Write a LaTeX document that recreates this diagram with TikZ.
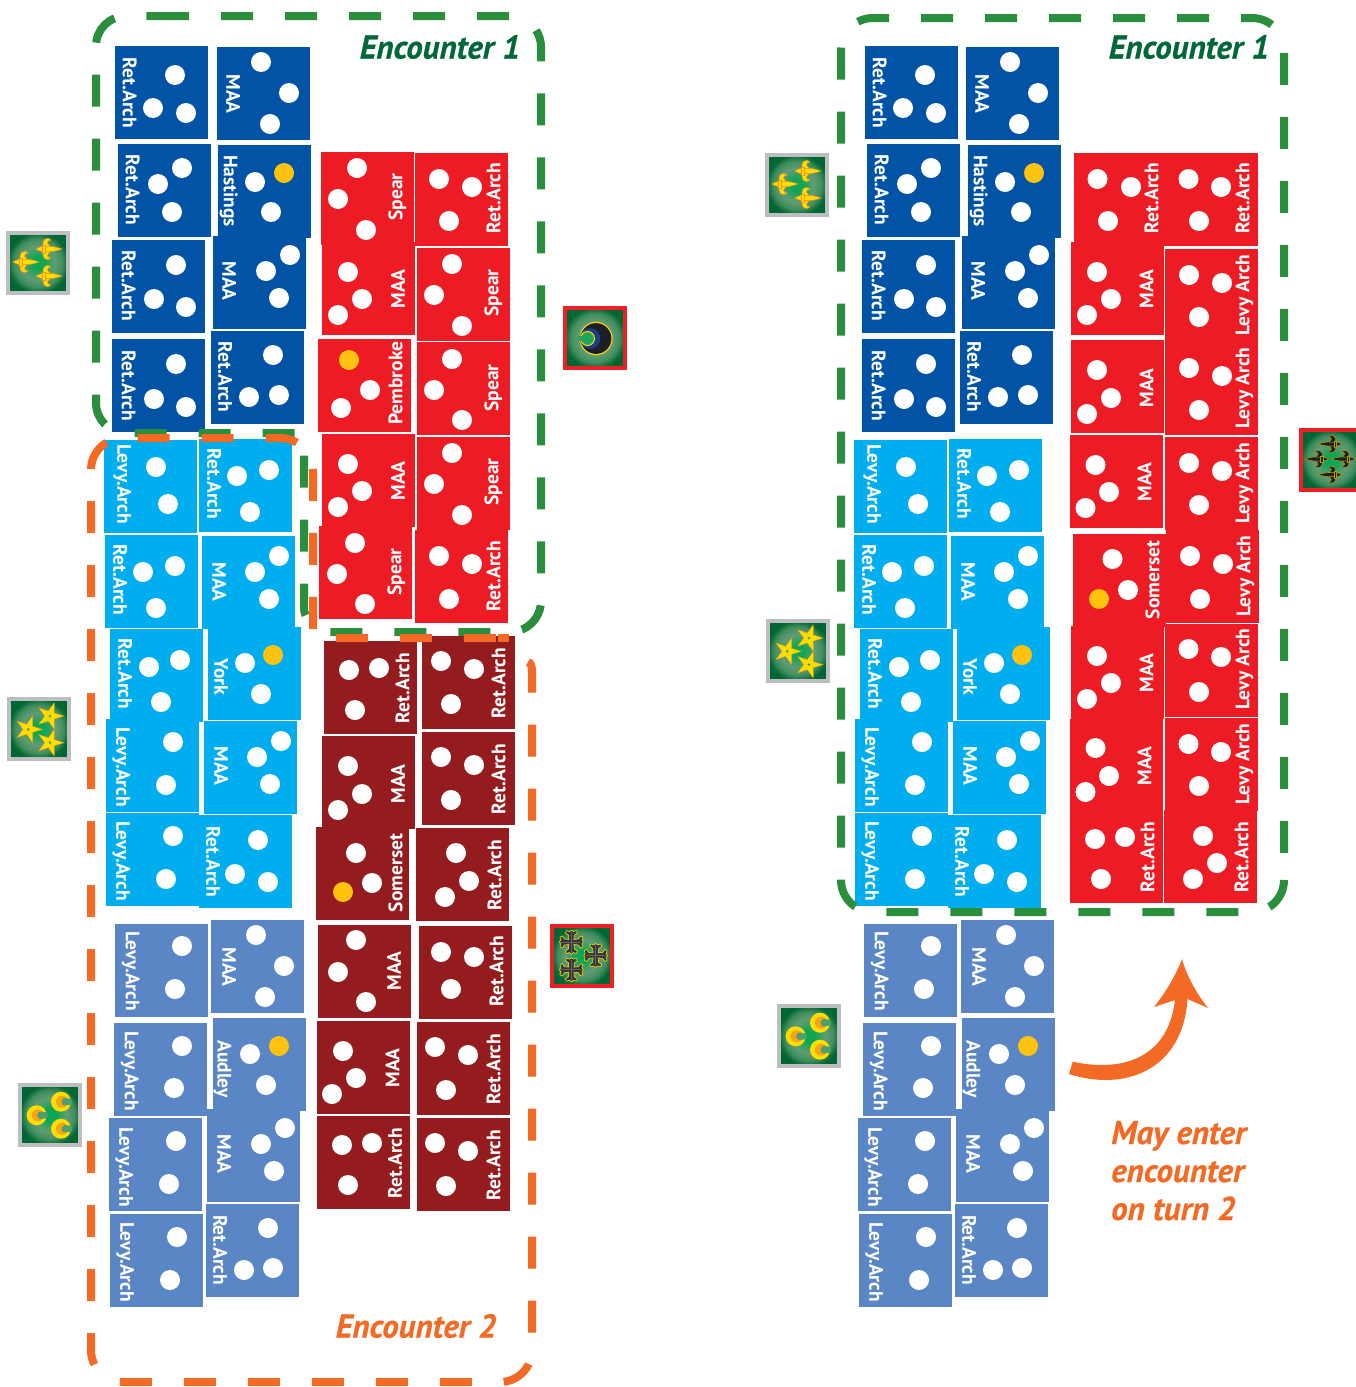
\documentclass[tikz,border=0pt]{standalone}
\usepackage{fontspec}
\setmainfont{PT Sans}
\newfontfamily\encfont[FakeBold=0.5]{PT Sans}
\usetikzlibrary{shapes.geometric,calc}
\definecolor{unitblue}{HTML}{0153A5}
\definecolor{unitsky}{HTML}{00AEEF}
\definecolor{unitslate}{HTML}{5B86C5}
\definecolor{unitred}{HTML}{ED1C24}
\definecolor{unitmaroon}{HTML}{941B1E}
\definecolor{pipgold}{HTML}{FFC20E}
\definecolor{framegreen}{HTML}{2A8F3D}
\definecolor{frameorange}{HTML}{F36A25}
\definecolor{textgreen}{HTML}{006838}
\definecolor{shieldgrey}{HTML}{BCBEC0}
\definecolor{shieldred}{HTML}{ED2027}
\definecolor{emblemgold}{HTML}{FFDD00}
\definecolor{emblemorange}{HTML}{F7941D}
\definecolor{emblemdark}{HTML}{1E1E24}
\definecolor{emblemnavy}{HTML}{1A3F8A}
\definecolor{emblemgreen}{HTML}{1FA45A}
\definecolor{emblembite}{HTML}{4FA06F}
\pgfdeclareradialshading{shieldglow}{\pgfpoint{0bp}{0bp}}{%
  rgb(0bp)=(0.05,0.65,0.33); rgb(5bp)=(0.05,0.65,0.33); rgb(14bp)=(0.38,0.61,0.46);
  rgb(20bp)=(0.26,0.56,0.37); rgb(25.5bp)=(0,0.40,0.20); rgb(60bp)=(0,0.40,0.20)}
\tikzset{
  unitbox/.style={anchor=north west,minimum width=93pt,minimum height=93pt,inner sep=0pt,outer sep=0pt},
  pip/.style={circle,fill=white,minimum size=20pt,inner sep=0pt,outer sep=0pt},
  goldpip/.style={pip,fill=pipgold},
  unitlabel/.style={text=white,font=\bfseries\fontsize{19.5}{20}\selectfont,inner sep=0pt,text height=14.5pt,text depth=0pt},
  frameline/.style={line width=8pt,dash pattern=on 32pt off 32pt,line cap=butt},
  encounterlabel/.style={font=\encfont\bfseries\itshape\fontsize{33}{33}\selectfont,inner sep=0pt},
  shieldbox/.style={minimum size=60pt,inner sep=0pt,outer sep=0pt,line width=4pt,shading=shieldglow},
}
% name, x, y, fill, label, label dx, label dy, label rotation, pips
\newcommand\unit[9]{%
  \node[unitbox,fill=#4] (#1) at (#2,#3) {};
  \node[unitlabel,rotate=#8] (#1label) at ([shift={(#6,#7)}]#1.north west) {#5};
  \foreach \px/\py in {#9} {\node[pip,name=#1pip\px] at ([shift={(\px,\py)}]#1.north west) {};}
}
\newcommand\goldspot[3]{\node[goldpip] (#1gold) at ([shift={(#2,#3)}]#1.north west) {};}
% fleur / dagger: x y xscale yscale fill outline
\newcommand\fleur[6]{%
  \begin{scope}[shift={(#1,#2)},xscale=#3,yscale=#4]
    \filldraw[fill=#5,draw=#6,line width=.5pt,line join=round]
      (-4,-2.6) .. controls (3,-3.2) and (8,-1.6) .. (13,0) .. controls (8,1.6) and (3,3.2) .. (-4,2.6)
      .. controls (-6,3) and (-10,2) .. (-13,0) .. controls (-10,-2) and (-6,-3) .. (-4,-2.6) -- cycle;
    \filldraw[fill=#5,draw=#6,line width=.5pt,line join=round]
      (-5,-2.5) .. controls (-7.5,-6) and (-5,-11) .. (-1,-10.5) .. controls (.5,-10.3) and (1.8,-9.5) .. (1.8,-8.2)
      .. controls (.5,-9) and (-2,-8.5) .. (-1.5,-6) .. controls (-1.2,-4.5) and (0,-3.3) .. (1,-2.5) -- cycle;
    \filldraw[fill=#5,draw=#6,line width=.5pt,line join=round]
      (-5,2.5) .. controls (-7.5,6) and (-5,11) .. (-1,10.5) .. controls (.5,10.3) and (1.8,9.5) .. (1.8,8.2)
      .. controls (.5,9) and (-2,8.5) .. (-1.5,6) .. controls (-1.2,4.5) and (0,3.3) .. (1,2.5) -- cycle;
    \filldraw[fill=#5,draw=#6,line width=.5pt] (-6.5,-4) rectangle (-4,4);
  \end{scope}}
\newcommand\emblemfleurs{%
  \fleur{20}{31}{1}{1}{emblemgold}{emblemorange}
  \fleur{43}{18}{1}{1}{emblemgold}{emblemorange}
  \fleur{43}{45}{1}{1}{emblemgold}{emblemorange}}
\newcommand\emblemdaggers{%
  \fleur{31}{16}{-0.95}{0.8}{emblemdark}{emblemgold!70!black}
  \fleur{17.7}{31}{-0.95}{0.8}{emblemdark}{emblemgold!70!black}
  \fleur{44.3}{31}{-0.95}{0.8}{emblemdark}{emblemgold!70!black}
  \fleur{31}{46.7}{-0.95}{0.8}{emblemdark}{emblemgold!70!black}}
\newcommand\astar[3]{%
  \node[star,star points=5,star point ratio=2.7,minimum size=28pt,inner sep=0pt,fill=emblemgold,draw=emblemorange,line width=.3pt,shape border rotate=-90,name=\curshield star#3] at (#1,#2) {};
  \node[circle,fill=emblembite,minimum size=3pt,inner sep=0pt,name=\curshield eye#3] at (#1,#2) {};}
\newcommand\emblemstars{\astar{21.3}{32.3}{a}\astar{43}{19}{b}\astar{43}{45.7}{c}}
\newcommand\acrescent[2]{%
  \fill[emblemgold] (#1,#2) circle (10pt);
  \fill[emblemorange!85!yellow] (#1+1,#2) circle (6pt);
  \fill[emblembite] (#1+4.5,#2) circle (4pt);
  \fill[emblembite] (#1+8,#2) circle (3.4pt);}
\newcommand\emblemcrescents{\acrescent{18.7}{32.3}\acrescent{43}{18.7}\acrescent{43}{45.7}}
\newcommand\across[2]{%
  \begin{scope}[shift={(#1,#2)}]
  \filldraw[fill=emblemdark!90!white,draw=emblemgold,line width=.6pt,line join=round]
    (-2.5,-2.5) -- (-3,-7) -- (-6,-9) -- (-5,-11.5) -- (-2,-10.5) -- (0,-12) -- (2,-10.5) -- (5,-11.5) -- (6,-9) -- (3,-7) --
    (2.5,-2.5) -- (7,-3) -- (9,-6) -- (11.5,-5) -- (10.5,-2) -- (12,0) -- (10.5,2) -- (11.5,5) -- (9,6) -- (7,3) --
    (2.5,2.5) -- (3,7) -- (6,9) -- (5,11.5) -- (2,10.5) -- (0,12) -- (-2,10.5) -- (-5,11.5) -- (-6,9) -- (-3,7) --
    (-2.5,2.5) -- (-7,3) -- (-9,6) -- (-11.5,5) -- (-10.5,2) -- (-12,0) -- (-10.5,-2) -- (-11.5,-5) -- (-9,-6) -- (-7,-3) -- cycle;
  \draw[black!60,line width=.5pt] (-10,0) -- (10,0) (0,-10) -- (0,10);
  \end{scope}}
\newcommand\emblemcrosses{\across{21.4}{18}\across{45.7}{31.4}\across{21.4}{45.7}}
\newcommand\emblemmoon{%
  \fill[emblemgold] (33,32.5) circle (16.6pt);
  \fill[emblemdark] (33,32.5) circle (15.4pt);
  \fill[emblemnavy] (27,32.5) circle (10.3pt);
  \filldraw[fill=emblemgreen,draw=emblemgold,line width=1pt] (24.5,32.5) circle (7pt);
  \fill[emblemgreen!70!gray] (13.5,30) rectangle (19,35);}
\newcommand\shield[5]{%
  \def\curshield{#1}%
  \node[shieldbox,draw=#4] (#1) at (#2+32,#3+32) {};
  \begin{scope}[shift={(#2,#3)}] #5 \end{scope}}
% the left-hand and right-hand blocks share their contents
\newcommand\bluecol[9]{%
  \unit{#1a}{#2}{46}{unitblue}{Ret.Arch}{15.2}{47}{-90}{60/29,38/62,71/67}
  \unit{#1b}{#3}{47}{unitblue}{MAA}{16.5}{47}{-90}{44/15,72/46,53/77}
  \unit{#1c}{#4}{144}{unitblue}{Ret.Arch}{15.2}{46}{-90}{64/24,40/40,54/68}
  \unit{#1d}{#5}{145}{unitblue}{Hastings}{13.1}{46}{-90}{37/37,53/67}\goldspot{#1d}{66}{28}
  \unit{#1e}{#6}{240}{unitblue}{Ret.Arch}{17.2}{46}{-90}{64/25,42/59,74/67}
  \unit{#1f}{#7}{236}{unitblue}{MAA}{16.5}{45}{-90}{77/19,53/35,66/62}
  \unit{#1g}{#8}{339}{unitblue}{Ret.Arch}{17.2}{47}{-90}{64/25,42/60,74/68}
  \unit{#1h}{#9}{331}{unitblue}{Ret.Arch}{14.5}{46}{-90}{62/24,38/66,68/64}}
\newcommand\skycolA[6]{%
  \unit{#1a}{#2}{440}{unitsky}{Levy.Arch}{20.5}{44}{-90}{52/27,64/64}
  \unit{#1b}{#3}{439}{unitsky}{Ret.Arch}{15.5}{45}{-90}{38/37,70/31,51/73}
  \unit{#1c}{#4}{535}{unitsky}{Ret.Arch}{15.5}{45}{-90}{38/37,70/31,51/73}
  \unit{#1d}{#5}{536}{unitsky}{MAA}{17.5}{46}{-90}{77/20,53/36,67/63}
  \unit{#1e}{#6}{629}{unitsky}{Ret.Arch}{15.5}{45}{-90}{39/38,70/31,51/73}}
\newcommand\skycolB[6]{%
  \unit{#1f}{#2}{627}{unitsky}{York}{13.5}{50}{-90}{37/36,53/67}\goldspot{#1f}{65}{28}
  \unit{#1g}{#3}{719}{unitsky}{Levy.Arch}{17.5}{48}{-90}{67/23,60/66}
  \unit{#1h}{#4}{721}{unitsky}{MAA}{17.5}{45}{-90}{77/20,53/36,66/63}
  \unit{#1i}{#5}{813}{unitsky}{Levy.Arch}{17.5}{48}{-90}{67/23,60/66}
  \unit{#1j}{#6}{815}{unitsky}{Ret.Arch}{14.5}{47}{-90}{59/25,36/59,69/67}}
\newcommand\slatecol[9]{%
  \unit{#1a}{#2}{924}{unitslate}{Levy.Arch}{18}{47}{-90}{67/22,60/65}
  \unit{#1b}{#3}{920}{unitslate}{MAA}{18.5}{47}{-90}{45/15,73/46,54/77}
  \unit{#1c}{#4}{1023}{unitslate}{Levy.Arch}{18}{48}{-90}{68/23,60/65}
  \unit{#1d}{#5}{1018}{unitslate}{Audley}{11.9}{51}{-90}{37/36,53/67}\goldspot{#1d}{66}{28}
  \unit{#1e}{#6}{1118}{unitslate}{Levy.Arch}{17.5}{49}{-90}{67/23,60/66}
  \unit{#1f}{#7}{1109}{unitslate}{MAA}{17.5}{45}{-90}{78/19,54/35,67/62}
  \unit{#1g}{#8}{1214}{unitslate}{Levy.Arch}{17.5}{48}{-90}{67/23,60/66}
  \unit{#1h}{#9}{1204}{unitslate}{Ret.Arch}{14.5}{46}{-90}{62/24,38/66,67/64}}
\begin{document}
\begin{tikzpicture}[x=1pt,y=-1pt]
\path[use as bounding box,clip] (0,0) rectangle (1356,1387);
\fill[white] (0,0) rectangle (1356,1387);

% ---- left column
\bluecol{A}{115}{217}{118}{218}{112}{213}{112}{211}
\unit{Ra}{321}{152}{unitred}{Spear}{74}{45}{90}{36/16,17/47,45/78}
\unit{Rb}{415}{153}{unitred}{Ret.Arch}{78}{45}{90}{24/26,57/34,34/68}
\unit{Rc}{322}{242}{unitred}{MAA}{75.5}{47}{90}{26/30,40/57,16/73}
\unit{Rd}{417}{248}{unitred}{Spear}{74}{45}{90}{35/16,17/47,45/78}
\unit{Re}{318}{339}{unitred}{Pembroke}{77}{44}{90}{52/51,23/69}\goldspot{Re}{31}{21}
\unit{Rf}{417}{342}{unitred}{Spear}{74}{46}{90}{35/17,17/48,45/78}
\unit{Rg}{322}{434}{unitred}{MAA}{75.5}{47}{90}{26/30,40/57,16/73}
\unit{Rh}{417}{437}{unitred}{Spear}{74}{45}{90}{35/16,17/47,45/78}
\unit{Ri}{319}{526}{unitred}{Spear}{75}{46}{90}{36/17,18/48,46/78}
\unit{Rj}{415}{530}{unitred}{Ret.Arch}{78}{46}{90}{24/26,57/34,34/69}
\skycolA{L}{104}{199}{105}{202}{110}
\skycolB{L}{208}{106}{204}{106}{199}
\unit{Ma}{324}{641}{unitmaroon}{Ret.Arch}{78}{47}{90}{25/29,55/27,31/69}
\unit{Mb}{422}{636}{unitmaroon}{Ret.Arch}{76}{47}{90}{19/25,52/33,29/68}
\unit{Mc}{322}{736}{unitmaroon}{MAA}{75.5}{48}{90}{26/30,40/58,16/74}
\unit{Md}{422}{732}{unitmaroon}{Ret.Arch}{76}{47}{90}{19/25,52/33,29/68}
\unit{Me}{316}{827}{unitmaroon}{Somerset}{79}{46}{90}{40/26,56/56}\goldspot{Me}{27}{65}
\unit{Mf}{416}{828}{unitmaroon}{Ret.Arch}{78}{47}{90}{40/25,53/53,29/69}
\unit{Mg}{318}{925}{unitmaroon}{MAA}{75.5}{46}{90}{38/15,20/47,48/77}
\unit{Mh}{419}{926}{unitmaroon}{Ret.Arch}{77}{45}{90}{22/26,55/31,32/63}
\unit{Mi}{317}{1021}{unitmaroon}{MAA}{75}{47}{90}{26/30,39/57,15/73}
\unit{Mj}{417}{1022}{unitmaroon}{Ret.Arch}{76}{47}{90}{18/25,51/33,29/68}
\unit{Mk}{317}{1116}{unitmaroon}{Ret.Arch}{77.5}{47}{90}{25/29,55/27,31/69}
\unit{Ml}{417}{1118}{unitmaroon}{Ret.Arch}{76}{47}{90}{18/25,51/33,29/68}
\slatecol{S}{115}{211}{114}{213}{109}{207}{110}{206}

% ---- right column
\bluecol{B}{865}{966}{867}{968}{862}{962}{862}{960}
\skycolA{C}{854}{949}{854}{951}{860}
\skycolB{C}{957}{855}{953}{855}{948}
\slatecol{D}{864}{961}{863}{962}{858}{956}{859}{955}
\unit{Ea}{1074}{153}{unitred}{Ret.Arch}{77}{45}{90}{23.5/26,57/34,34/68}
\unit{Eb}{1165}{153}{unitred}{Ret.Arch}{77}{45}{90}{23.5/26,56/34,34/68}
\unit{Ec}{1071}{242}{unitred}{MAA}{75}{47}{90}{26/30,40/57,16/73}
\unit{Ed}{1165}{249}{unitred}{Levy Arch}{77}{46}{90}{24/26,57/34,34/68}
\unit{Ee}{1071}{340}{unitred}{MAA}{75}{48}{90}{26/30,40/58,16/74}
\unit{Ef}{1165}{342}{unitred}{Levy Arch}{77}{46}{90}{24/26,57/34,34/68}
\unit{Eg}{1070}{435}{unitred}{MAA}{74}{47}{90}{25.5/30,39/57,15.5/73}
\unit{Eh}{1165}{437}{unitred}{Levy Arch}{77}{46}{90}{24/26,57/34,34/68}
\unit{Ei}{1166}{530}{unitred}{Levy Arch}{77}{46}{90}{24/26,57/34,34/69}
\unit{Ej}{1073}{534}{unitred}{Somerset}{79}{46}{90}{39.5/25,55/56}\goldspot{Ej}{26}{65}
\unit{Ek}{1071}{626}{unitred}{MAA}{75}{47}{90}{26/30,40/57,16/73}
\unit{El}{1165}{624}{unitred}{Levy Arch}{77}{45}{90}{23.5/25,56/33,34/68}
\unit{Em}{1070}{719}{unitred}{MAA}{74}{47}{90}{25.5/29,39/57,15.5/73}
\unit{En}{1165}{718}{unitred}{Levy Arch}{77}{46}{90}{23.5/26,56/34,34/68}
\unit{Eo}{1070}{810}{unitred}{Ret.Arch}{77}{47}{90}{25/29,55/27,31/69}
\unit{Ep}{1164}{810}{unitred}{Ret.Arch}{77}{47}{90}{39/26,53/53,29/69}

% ---- frames
\draw[frameline,framegreen]
  (157,16) -- (510,16) .. controls (527,16) and (541,30) .. (541,47)
  -- (541,601) .. controls (541,618) and (527,632) .. (510,632)
  -- (328,632) .. controls (316,632) and (306,622) .. (304,610)
  -- (304,433) -- (126,433) .. controls (109.4,433) and (96,419.6) .. (96,403)
  -- (96,46) .. controls (96,29.4) and (109.4,16) .. (126,16) -- (157,16);
\draw[frameline,frameorange]
  (528,662) .. controls (531,663) and (532,666) .. (532,672)
  -- (532,1350) .. controls (532,1367.7) and (517.7,1382) .. (500,1382)
  -- (123,1382) .. controls (105.3,1382) and (91,1367.7) .. (91,1350)
  -- (91,470) .. controls (91,452.3) and (105.3,438) .. (123,438)
  -- (280,438) .. controls (298.2,438) and (313,452.8) .. (313,471)
  -- (313,638) -- (500,638);
\draw[line width=8pt,frameorange] (498,638) -- (509,638);
\draw[frameline,framegreen]
  (1284,880) .. controls (1284,897.7) and (1269.7,912) .. (1252,912)
  -- (873,912) .. controls (855.3,912) and (841,897.7) .. (841,880)
  -- (841,50) .. controls (841,32.3) and (855.3,18) .. (873,18)
  -- (1252,18) .. controls (1269.7,18) and (1284,32.3) .. (1284,50) -- (1284,855);

% ---- shields
\shield{sfleurL}{6}{231}{shieldgrey}{\emblemfleurs}
\shield{sfleurR}{765}{153}{shieldgrey}{\emblemfleurs}
\shield{sstarL}{7}{697}{shieldgrey}{\emblemstars}
\shield{sstarR}{766}{619}{shieldgrey}{\emblemstars}
\shield{scresL}{18}{1083}{shieldgrey}{\emblemcrescents}
\shield{scresR}{777}{1004}{shieldgrey}{\emblemcrescents}
\shield{smoon}{563}{306}{shieldred}{\emblemmoon}
\shield{scross}{550}{924}{shieldred}{\emblemcrosses}
\shield{sdagger}{1299}{428}{shieldred}{\emblemdaggers}

% ---- captions
\node[encounterlabel,text=textgreen] (encAL) at (440,47) {Encounter 1};
\node[encounterlabel,text=textgreen] (encAR) at (1189,47) {Encounter 1};
\node[encounterlabel,text=frameorange] (encB) at (416,1326) {Encounter 2};
\node[encounterlabel,text=frameorange,anchor=base west,align=left,font=\encfont\bfseries\itshape\fontsize{33}{38}\selectfont] (turnnote) at (1111,1220) {May enter\\encounter\\on turn 2};

% ---- arrow
\fill[frameorange]
  (1072.7,1061.7) .. controls (1120,1072) and (1168,1060) .. (1175,1000)
  -- (1154,1007) .. controls (1166,992) and (1176,975) .. (1182,959)
  .. controls (1187,977) and (1197,994) .. (1208,1008) -- (1187.5,999)
  .. controls (1183,1070) and (1125,1092) .. (1069,1074) -- cycle;
\end{tikzpicture}
\end{document}
